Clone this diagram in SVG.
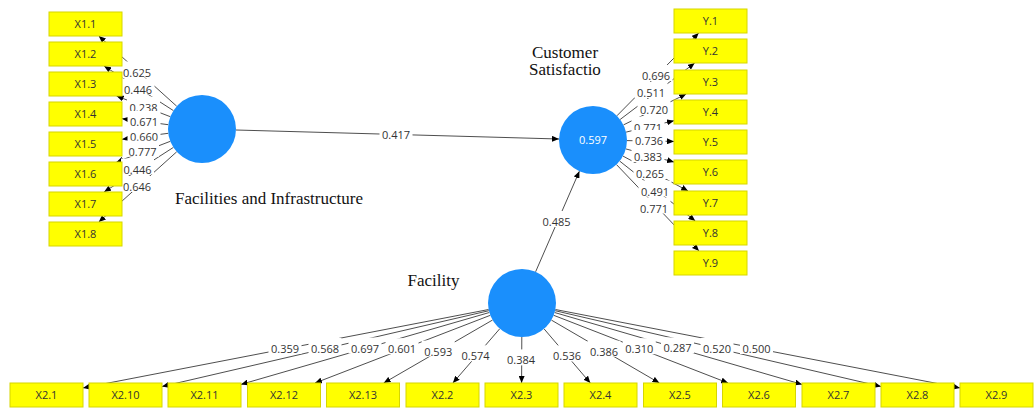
<svg xmlns="http://www.w3.org/2000/svg" width="1035" height="408" viewBox="0 0 1035 408">
<style>
.bg{fill:#ffffff}
.ln{stroke:#3a3a3a;stroke-width:0.9;fill:none;marker-end:url(#ah)}
.lb rect{fill:#ffffff}
.lb text{font-family:"Open Sans","Liberation Sans",sans-serif;font-size:11px;fill:#333333;text-anchor:middle}
.box rect{fill:#ffff00;stroke:#d6d600;stroke-width:1}
.box text{font-family:"Open Sans","Liberation Sans",sans-serif;font-size:11px;fill:#333333;text-anchor:middle}
.lv circle{fill:#1a8ffc}
.lv text.nm{font-family:"Liberation Serif",serif;font-size:17px;fill:#111111;text-anchor:middle}
.lv text.r2{font-family:"Open Sans","Liberation Sans",sans-serif;font-size:11px;fill:#ffffff;text-anchor:middle}
</style>
<defs>
<marker id="ah" markerUnits="userSpaceOnUse" markerWidth="7" markerHeight="6" refX="7" refY="3" orient="auto">
<path d="M0,0 L7,3 L0,6 z" fill="#000000"/>
</marker>
</defs>
<rect class="bg" x="0" y="0" width="1035" height="408"/>
<g id="connectors">
<line class="ln" x1="236" y1="130" x2="559" y2="139"/>
<line class="ln" x1="535.6" y1="271.8" x2="579.4" y2="171.2"/>
<line class="ln" x1="176.7" y1="106.2" x2="98.8" y2="36"/>
<line class="ln" x1="173.4" y1="110.6" x2="104.1" y2="66"/>
<line class="ln" x1="170.3" y1="116.7" x2="116.6" y2="96"/>
<line class="ln" x1="168.3" y1="124.7" x2="122" y2="118.7"/>
<line class="ln" x1="168.3" y1="133.3" x2="122" y2="139.3"/>
<line class="ln" x1="170.3" y1="141.3" x2="116.6" y2="162"/>
<line class="ln" x1="173.4" y1="147.4" x2="104.1" y2="192"/>
<line class="ln" x1="176.7" y1="151.8" x2="98.8" y2="222"/>
<line class="ln" x1="616.9" y1="115.8" x2="698.7" y2="33"/>
<line class="ln" x1="620.1" y1="119.5" x2="694.7" y2="63"/>
<line class="ln" x1="623.5" y1="124.9" x2="686.2" y2="94"/>
<line class="ln" x1="626.1" y1="132.1" x2="674" y2="120.7"/>
<line class="ln" x1="627" y1="140.6" x2="674" y2="141.4"/>
<line class="ln" x1="625.8" y1="148.9" x2="674" y2="162.1"/>
<line class="ln" x1="623" y1="156.1" x2="688.1" y2="191"/>
<line class="ln" x1="619.7" y1="161.1" x2="695.3" y2="221"/>
<line class="ln" x1="616.5" y1="164.6" x2="699" y2="251"/>
<line class="ln" x1="488.6" y1="309.5" x2="83" y2="387.9"/>
<line class="ln" x1="488.9" y1="310.7" x2="162" y2="386.5"/>
<line class="ln" x1="489.3" y1="312.5" x2="241" y2="384.4"/>
<line class="ln" x1="490.3" y1="315.3" x2="315" y2="383"/>
<line class="ln" x1="492.6" y1="320" x2="383.7" y2="383"/>
<line class="ln" x1="499.8" y1="328.7" x2="452.9" y2="383"/>
<line class="ln" x1="521.8" y1="337" x2="521.6" y2="383"/>
<line class="ln" x1="544.1" y1="328.9" x2="590.3" y2="383"/>
<line class="ln" x1="551.4" y1="320.1" x2="659.4" y2="383"/>
<line class="ln" x1="553.7" y1="315.3" x2="728.1" y2="383"/>
<line class="ln" x1="554.6" y1="312.5" x2="802" y2="384.4"/>
<line class="ln" x1="555.1" y1="310.7" x2="881" y2="386.5"/>
<line class="ln" x1="555.4" y1="309.5" x2="960" y2="387.9"/>
<g class="lb">
<rect x="379.5" y="123.8" width="33" height="16"/><text x="396" y="138.8">0.417</text>
<rect x="540" y="211" width="33" height="16"/><text x="556.5" y="226">0.485</text>
<rect x="120.5" y="61.5" width="33" height="16"/><text x="137" y="76.5">0.625</text>
<rect x="121.5" y="78.5" width="33" height="16"/><text x="138" y="93.5">0.446</text>
<rect x="127" y="96.5" width="33" height="16"/><text x="143.5" y="111.5">0.238</text>
<rect x="127.5" y="111" width="33" height="16"/><text x="144" y="126">0.671</text>
<rect x="127.5" y="126" width="33" height="16"/><text x="144" y="141">0.660</text>
<rect x="126" y="140.7" width="33" height="16"/><text x="142.5" y="155.7">0.777</text>
<rect x="121" y="158.5" width="33" height="16"/><text x="137.5" y="173.5">0.446</text>
<rect x="120.5" y="176" width="33" height="16"/><text x="137" y="191">0.646</text>
<rect x="639.5" y="65" width="33" height="16"/><text x="656" y="80">0.696</text>
<rect x="634.5" y="82" width="33" height="16"/><text x="651" y="97">0.511</text>
<rect x="637.5" y="99" width="33" height="16"/><text x="654" y="114">0.720</text>
<rect x="631.5" y="116.5" width="33" height="16"/><text x="648" y="131.5">0.771</text>
<rect x="632.5" y="130" width="33" height="16"/><text x="649" y="145">0.736</text>
<rect x="631.5" y="146" width="33" height="16"/><text x="648" y="161">0.383</text>
<rect x="633.5" y="163" width="33" height="16"/><text x="650" y="178">0.265</text>
<rect x="638.5" y="180.5" width="33" height="16"/><text x="655" y="195.5">0.491</text>
<rect x="637.5" y="197.5" width="33" height="16"/><text x="654" y="212.5">0.771</text>
<rect x="268.5" y="338" width="33" height="16"/><text x="285" y="353">0.359</text>
<rect x="308.5" y="338" width="33" height="16"/><text x="325" y="353">0.568</text>
<rect x="348.5" y="337.5" width="33" height="16"/><text x="365" y="352.5">0.697</text>
<rect x="385.5" y="338.2" width="33" height="16"/><text x="402" y="353.2">0.601</text>
<rect x="421.7" y="340.6" width="33" height="16"/><text x="438.2" y="355.6">0.593</text>
<rect x="459.1" y="345.3" width="33" height="16"/><text x="475.6" y="360.3">0.574</text>
<rect x="504.5" y="349.4" width="33" height="16"/><text x="521" y="364.4">0.384</text>
<rect x="550.5" y="345.4" width="33" height="16"/><text x="567" y="360.4">0.536</text>
<rect x="587.5" y="340.7" width="33" height="16"/><text x="604" y="355.7">0.386</text>
<rect x="622.8" y="338.2" width="33" height="16"/><text x="639.3" y="353.2">0.310</text>
<rect x="661" y="337.4" width="33" height="16"/><text x="677.5" y="352.4">0.287</text>
<rect x="700.5" y="338" width="33" height="16"/><text x="717" y="353">0.520</text>
<rect x="740" y="338" width="33" height="16"/><text x="756.5" y="353">0.500</text>
</g>
</g>
<g id="lv-facilities-infrastructure" class="lv">
<circle cx="202" cy="129" r="34"/>
<text class="nm" x="269" y="204">Facilities and Infrastructure</text>
</g>
<g id="lv-customer-satisfaction" class="lv">
<circle cx="593" cy="140" r="34"/>
<text class="r2" x="593" y="144">0.597</text>
<text class="nm" x="565" y="57.5">Customer</text>
<text class="nm" x="565" y="74.5">Satisfactio</text>
</g>
<g id="lv-facility" class="lv">
<circle cx="522" cy="303" r="34"/>
<text class="nm" x="433.5" y="285.5">Facility</text>
</g>
<g id="x1-1" class="box"><rect x="49" y="12" width="73" height="24"/><text x="85.5" y="28">X1.1</text></g>
<g id="x1-2" class="box"><rect x="49" y="42" width="73" height="24"/><text x="85.5" y="58">X1.2</text></g>
<g id="x1-3" class="box"><rect x="49" y="72" width="73" height="24"/><text x="85.5" y="88">X1.3</text></g>
<g id="x1-4" class="box"><rect x="49" y="102" width="73" height="24"/><text x="85.5" y="118">X1.4</text></g>
<g id="x1-5" class="box"><rect x="49" y="132" width="73" height="24"/><text x="85.5" y="148">X1.5</text></g>
<g id="x1-6" class="box"><rect x="49" y="162" width="73" height="24"/><text x="85.5" y="178">X1.6</text></g>
<g id="x1-7" class="box"><rect x="49" y="192" width="73" height="24"/><text x="85.5" y="208">X1.7</text></g>
<g id="x1-8" class="box"><rect x="49" y="222" width="73" height="24"/><text x="85.5" y="238">X1.8</text></g>
<g id="y-1" class="box"><rect x="674" y="9" width="73" height="24"/><text x="710.5" y="25">Y.1</text></g>
<g id="y-2" class="box"><rect x="674" y="39" width="73" height="24"/><text x="710.5" y="55">Y.2</text></g>
<g id="y-3" class="box"><rect x="674" y="70" width="73" height="24"/><text x="710.5" y="86">Y.3</text></g>
<g id="y-4" class="box"><rect x="674" y="100" width="73" height="24"/><text x="710.5" y="116">Y.4</text></g>
<g id="y-5" class="box"><rect x="674" y="130" width="73" height="24"/><text x="710.5" y="146">Y.5</text></g>
<g id="y-6" class="box"><rect x="674" y="160" width="73" height="24"/><text x="710.5" y="176">Y.6</text></g>
<g id="y-7" class="box"><rect x="674" y="191" width="73" height="24"/><text x="710.5" y="207">Y.7</text></g>
<g id="y-8" class="box"><rect x="674" y="221" width="73" height="24"/><text x="710.5" y="237">Y.8</text></g>
<g id="y-9" class="box"><rect x="674" y="251" width="73" height="24"/><text x="710.5" y="267">Y.9</text></g>
<g id="x2-1" class="box"><rect x="10" y="383" width="73" height="24"/><text x="46.5" y="399">X2.1</text></g>
<g id="x2-10" class="box"><rect x="89" y="383" width="73" height="24"/><text x="125.5" y="399">X2.10</text></g>
<g id="x2-11" class="box"><rect x="168" y="383" width="73" height="24"/><text x="204.5" y="399">X2.11</text></g>
<g id="x2-12" class="box"><rect x="247.5" y="383" width="73" height="24"/><text x="284" y="399">X2.12</text></g>
<g id="x2-13" class="box"><rect x="326.5" y="383" width="73" height="24"/><text x="363" y="399">X2.13</text></g>
<g id="x2-2" class="box"><rect x="406" y="383" width="73" height="24"/><text x="442.5" y="399">X2.2</text></g>
<g id="x2-3" class="box"><rect x="485" y="383" width="73" height="24"/><text x="521.5" y="399">X2.3</text></g>
<g id="x2-4" class="box"><rect x="564" y="383" width="73" height="24"/><text x="600.5" y="399">X2.4</text></g>
<g id="x2-5" class="box"><rect x="643.5" y="383" width="73" height="24"/><text x="680" y="399">X2.5</text></g>
<g id="x2-6" class="box"><rect x="722.5" y="383" width="73" height="24"/><text x="759" y="399">X2.6</text></g>
<g id="x2-7" class="box"><rect x="802" y="383" width="73" height="24"/><text x="838.5" y="399">X2.7</text></g>
<g id="x2-8" class="box"><rect x="881" y="383" width="73" height="24"/><text x="917.5" y="399">X2.8</text></g>
<g id="x2-9" class="box"><rect x="960" y="383" width="73" height="24"/><text x="996.5" y="399">X2.9</text></g>
</svg>
